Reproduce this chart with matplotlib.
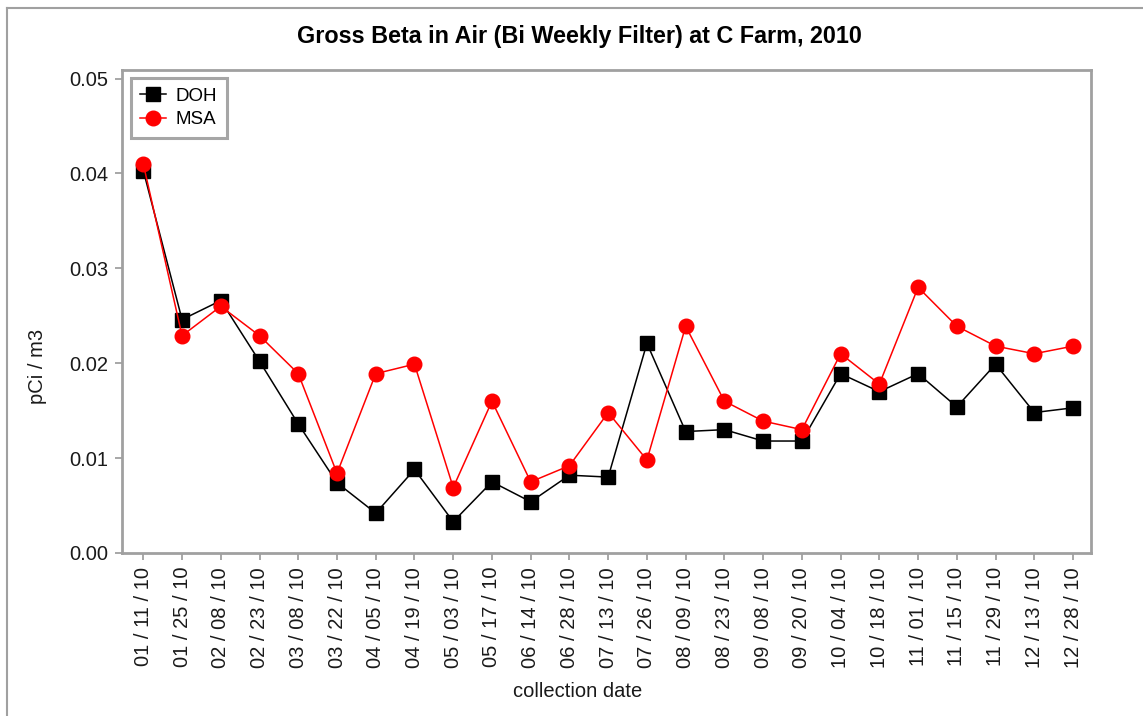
import matplotlib
matplotlib.use("Agg")
import matplotlib.pyplot as plt
from matplotlib.lines import Line2D

dates = ["01 / 11 / 10", "01 / 25 / 10", "02 / 08 / 10", "02 / 23 / 10", "03 / 08 / 10",
         "03 / 22 / 10", "04 / 05 / 10", "04 / 19 / 10", "05 / 03 / 10", "05 / 17 / 10",
         "06 / 14 / 10", "06 / 28 / 10", "07 / 13 / 10", "07 / 26 / 10", "08 / 09 / 10",
         "08 / 23 / 10", "09 / 08 / 10", "09 / 20 / 10", "10 / 04 / 10", "10 / 18 / 10",
         "11 / 01 / 10", "11 / 15 / 10", "11 / 29 / 10", "12 / 13 / 10", "12 / 28 / 10"]

doh = [0.0403, 0.0246, 0.0266, 0.0202, 0.0136, 0.0074, 0.0042, 0.0088, 0.0033, 0.0075,
       0.0054, 0.0082, 0.0080, 0.0221, 0.0128, 0.0130, 0.0118, 0.0118, 0.0189, 0.0170,
       0.0189, 0.0154, 0.0199, 0.0148, 0.0153]

msa = [0.0410, 0.0229, 0.0260, 0.0229, 0.0189, 0.0084, 0.0189, 0.0199, 0.0069, 0.0160,
       0.0075, 0.0092, 0.0148, 0.0098, 0.0239, 0.0160, 0.0139, 0.0130, 0.0210, 0.0178,
       0.0280, 0.0239, 0.0218, 0.0210, 0.0218]

yticks = [0.00, 0.01, 0.02, 0.03, 0.04, 0.05]

plt.rcParams['font.family'] = ['Liberation Sans', 'DejaVu Sans']

W, H = 1143, 716
fig = plt.figure(figsize=(W / 100, H / 100), dpi=100)
fig.patch.set_facecolor('white')

ax_l, ax_r, ax_t, ax_b = 122, 1090.5, 70, 553
ax = fig.add_axes([ax_l / W, 1 - ax_b / H, (ax_r - ax_l) / W, (ax_b - ax_t) / H])

x = list(range(len(dates)))
ax.plot(x, doh, color='black', lw=1.1, marker='s', markersize=10,
        markerfacecolor='black', markeredgecolor='black', label='DOH', zorder=3)
ax.plot(x, msa, color='#ff0000', lw=1.1, marker='o', markersize=10.5,
        markerfacecolor='#ff0000', markeredgecolor='#ff0000', label='MSA', zorder=4)

ax.set_xlim(-0.55, 24.45)
ax.set_ylim(0, 0.0509)
ax.set_xticks(x)
ax.set_xticklabels(dates, rotation=90, fontsize=14.5, color='#1a1a1a')
ax.set_yticks(yticks)
ax.set_yticklabels([f"{v:.2f}" for v in yticks], fontsize=14.5, color='#1a1a1a')

spine_c = '#a0a0a0'
for s in ax.spines.values():
    s.set_color(spine_c)
    s.set_linewidth(2)
ax.tick_params(axis='both', direction='out', length=5, width=1.3, color=spine_c, pad=5)

ax.set_xlabel('collection date', fontsize=14.5, color='#1a1a1a')
ax.set_ylabel('pCi / m3', fontsize=14.5, color='#1a1a1a')
aw, ah = ax_r - ax_l, ax_b - ax_t
ax.xaxis.set_label_coords((578 - ax_l) / aw, -(682 - ax_b) / ah)
ax.yaxis.set_label_coords(-(ax_l - 47) / aw, (ax_b - 366) / ah)

fig.text(579 / W, 1 - 37 / H, 'Gross Beta in Air (Bi Weekly Filter) at C Farm, 2010',
         ha='center', va='center', fontsize=16.8, fontweight='bold', color='black')

leg = ax.legend(loc='upper left', bbox_to_anchor=(0.009, 0.983), fontsize=13.5,
                frameon=True, fancybox=False, borderpad=0.5, labelspacing=0.35,
                handlelength=1.4, handletextpad=0.5, borderaxespad=0)
leg.get_frame().set_edgecolor('#909090')
leg.get_frame().set_linewidth(2.2)

# outer border (top & left)
fig.add_artist(Line2D([7 / W, 7 / W], [0, 1 - 8 / H], color='#a0a0a0', lw=1.5,
                      transform=fig.transFigure))
fig.add_artist(Line2D([7 / W, 1], [1 - 8 / H, 1 - 8 / H], color='#a0a0a0', lw=1.5,
                      transform=fig.transFigure))

fig.savefig('out.png', dpi=100, facecolor='white')
